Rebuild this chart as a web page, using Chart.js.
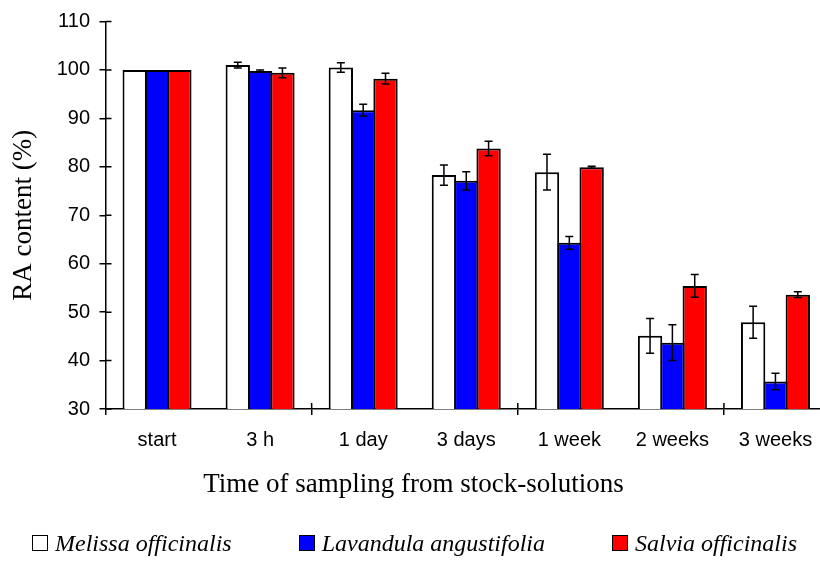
<!DOCTYPE html>
<html>
<head>
<meta charset="utf-8">
<script src="https://cdn.jsdelivr.net/npm/chart.js@4/dist/chart.umd.min.js"></script>
<style>
  html, body { margin: 0; padding: 0; background: #fff; overflow: hidden; }
  #wrap { position: relative; width: 827px; height: 563px; }
  #legend {
    position: absolute; left: 32px; top: 531px;
    display: flex; gap: 67px; white-space: nowrap;
    font: italic 24px "Liberation Serif", "Times New Roman", serif; line-height: 24px; color: #000;
  }
  #legend .box {
    display: inline-block; width: 16px; height: 16px; box-sizing: border-box;
    border: 1.5px solid #000; margin-right: 7px; vertical-align: baseline;
  }
</style>
</head>
<body>
<div id="wrap">
  <canvas id="grafico" width="827" height="563"></canvas>
  <div id="legend"></div>
</div>
<script>
// categorias (tempo de amostragem)
const categories = ['start', '3 h', '1 day', '3 days', '1 week', '2 weeks', '3 weeks'];

// conteúdo de RA (%) e desvios
const melissa      = [100, 101.0, 100.5, 78.3, 78.9, 45.1, 47.9];
const melissaErr   = [0, 0.6, 1.0, 2.1, 3.7, 3.6, 3.3];
const lavandula    = [100, 99.8, 91.7, 77.1, 64.3, 43.7, 35.7];
const lavandulaErr = [0, 0.2, 1.2, 1.9, 1.3, 3.7, 1.7];
const salvia       = [100, 99.4, 98.2, 83.8, 79.9, 55.4, 53.6];
const salviaErr    = [0, 1.0, 1.1, 1.5, 0.2, 2.35, 0.6];

const seriesNames = ['Melissa officinalis', 'Lavandula angustifolia', 'Salvia officinalis'];

const serif = '"Liberation Serif", "Times New Roman", serif';
Chart.defaults.font.family = '"Liberation Sans", Arial, sans-serif';
Chart.defaults.color = '#000';

// barras de erro desenhadas a partir da escala y
const errorBars = {
    id: 'errorBars',
    afterDatasetsDraw(chart) {
        const { ctx } = chart;
        const y = chart.scales.y;
        ctx.save();
        ctx.strokeStyle = '#000';
        ctx.lineWidth = 1.5;
        chart.data.datasets.forEach((ds, di) => {
            chart.getDatasetMeta(di).data.forEach((bar, i) => {
                const err = ds.errors[i];
                if (!err) return;
                const top = y.getPixelForValue(ds.data[i] + err);
                const bot = y.getPixelForValue(ds.data[i] - err);
                ctx.beginPath();
                ctx.moveTo(bar.x, top); ctx.lineTo(bar.x, bot);
                ctx.moveTo(bar.x - 4, top); ctx.lineTo(bar.x + 4, top);
                ctx.moveTo(bar.x - 4, bot); ctx.lineTo(bar.x + 4, bot);
                ctx.stroke();
            });
        });
        ctx.restore();
    }
};

// metade interna das marcas dos eixos (estilo Excel, cruzando o eixo)
const innerTicks = {
    id: 'innerTicks',
    afterDraw(chart) {
        const { ctx, chartArea } = chart;
        const { x, y } = chart.scales;
        ctx.save();
        ctx.strokeStyle = '#000';
        ctx.lineWidth = 1.5;
        ctx.beginPath();
        y.ticks.forEach((t, i) => {
            const py = y.getPixelForTick(i);
            ctx.moveTo(chartArea.left, py);
            ctx.lineTo(chartArea.left + 6, py);
        });
        for (let i = 2; i < categories.length; i += 2) {
            const px = x.getPixelForValue(i - 0.5);
            ctx.moveTo(px, chartArea.bottom);
            ctx.lineTo(px, chartArea.bottom - 6);
        }
        ctx.stroke();
        ctx.restore();
    }
};

// barras levemente sobrepostas para que a borda entre elas seja uma só
function serie(label, data, errors, color) {
    return {
        label, data, errors,
        backgroundColor: color,
        borderColor: '#000',
        borderWidth: 2,
        categoryPercentage: 0.65,
        barPercentage: 1.09
    };
}

const chart = new Chart(document.getElementById('grafico'), {
    type: 'bar',
    data: {
        labels: categories,
        datasets: [
            serie(seriesNames[0], melissa, melissaErr, '#ffffff'),
            serie(seriesNames[1], lavandula, lavandulaErr, '#0000ff'),
            serie(seriesNames[2], salvia, salviaErr, '#ff0000')
        ]
    },
    options: {
        responsive: false,
        animation: false,
        layout: { padding: { top: 18, right: 0, bottom: 62, left: 0 } },
        plugins: {
            legend: { display: false },
            tooltip: { enabled: false },
            title: {
                display: true,
                position: 'bottom',
                text: 'Time of sampling from stock-solutions',
                font: { family: serif, size: 27, weight: 'normal' },
                padding: { top: 15, bottom: 0 }
            }
        },
        scales: {
            x: {
                afterFit(s) { s.height = 44.6; },
                grid: {
                    drawOnChartArea: false,
                    tickLength: 6,
                    lineWidth: 1.5,
                    color: c => (c.index % 2 === 0 ? '#000' : 'rgba(0,0,0,0)')
                },
                border: { color: '#000', width: 1.5 },
                ticks: { font: { size: 20 }, padding: 13 }
            },
            y: {
                min: 30,
                max: 110,
                afterFit(s) { s.width = 105.5; },
                grid: { drawOnChartArea: false, tickLength: 6, lineWidth: 1.5, color: '#000' },
                border: { color: '#000', width: 1.5 },
                ticks: { stepSize: 10, font: { size: 20 }, padding: 9.5 },
                title: {
                    display: true,
                    text: 'RA content (%)',
                    font: { family: serif, size: 27 },
                    padding: { top: 8, bottom: 0 }
                }
            }
        }
    },
    plugins: [errorBars, innerTicks]
});

// legenda em HTML montada a partir dos datasets
const legend = document.getElementById('legend');
chart.data.datasets.forEach(ds => {
    const item = document.createElement('span');
    const box = document.createElement('i');
    box.className = 'box';
    box.style.background = ds.backgroundColor;
    item.appendChild(box);
    item.appendChild(document.createTextNode(ds.label));
    legend.appendChild(item);
});
</script>
</body>
</html>
